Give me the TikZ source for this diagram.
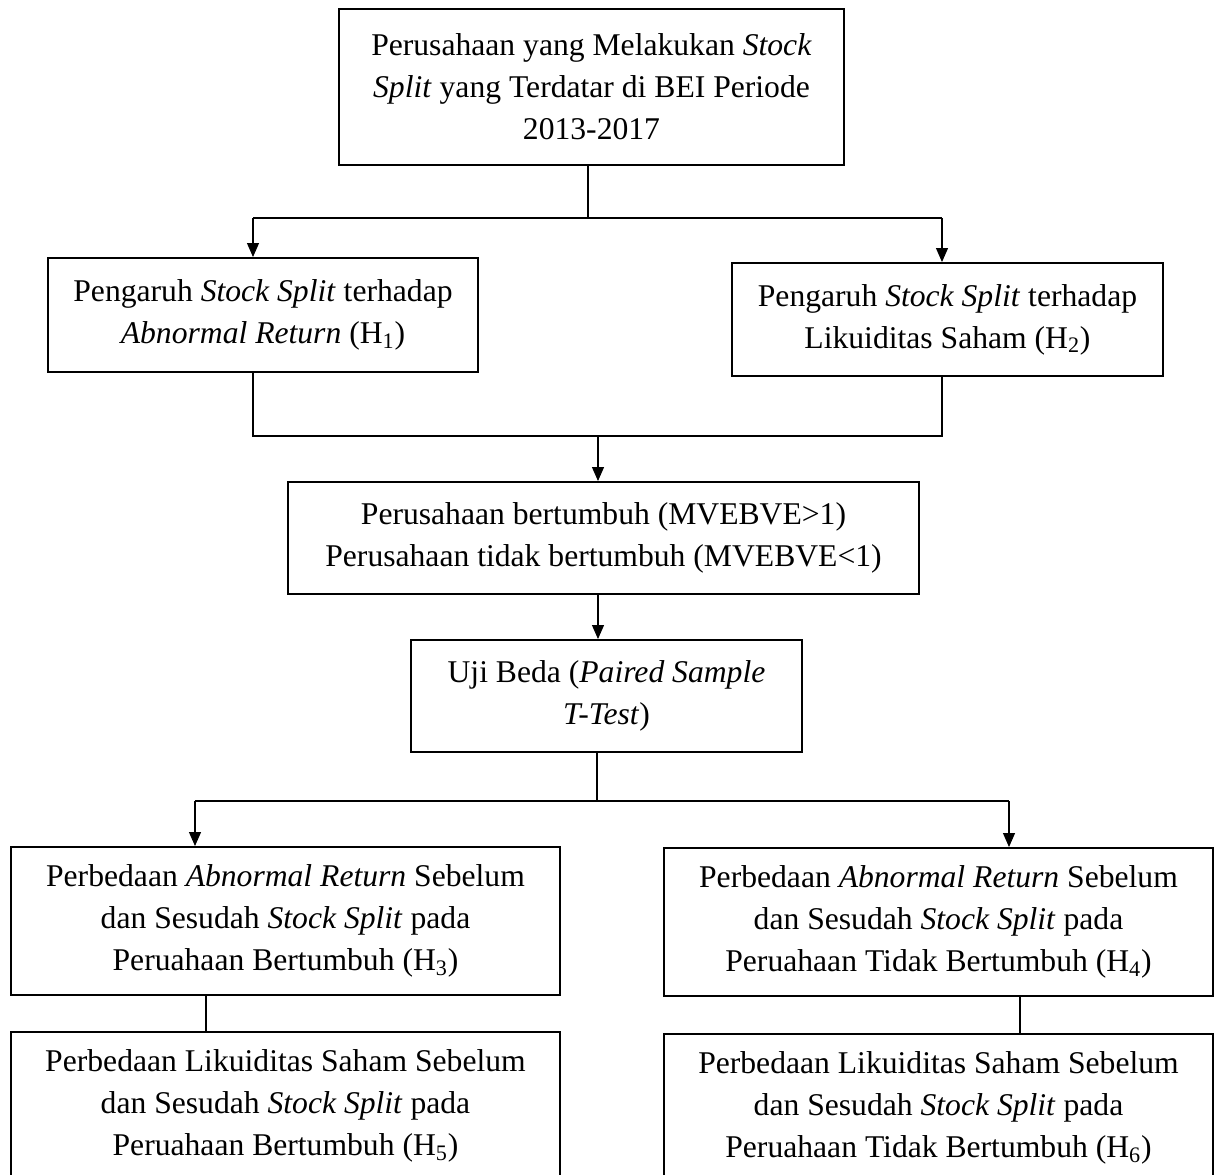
\documentclass[tikz,border=0pt]{standalone}
\usepackage{fontspec}
\setmainfont{Liberation Serif}
\usepackage{tikz}
\usetikzlibrary{arrows.meta,positioning,calc}

\begin{document}
\begin{tikzpicture}[font=\fontsize{18}{24}\selectfont,
          every node/.style={align=center},
          box/.style={draw, line width=1.1pt, inner sep=0pt},
          link/.style={line width=0.6pt},
          arr/.style={link, -{Triangle[length=0.28cm,width=0.24cm]}}]
          \clip (0,0) rectangle (24.3,-23.5);
          % Boxes
          \node[box, minimum width=10.1cm, minimum height=3.12cm] (top) at (11.83,-1.74)
            {Perusahaan yang Melakukan \textit{Stock}\\
             \textit{Split} yang Terdatar di BEI Periode\\ 2013-2017};
          \node[box, minimum width=8.6cm, minimum height=2.28cm] (h1) at (5.26,-6.30)
            {Pengaruh \textit{Stock Split} terhadap\\ \textit{Abnormal Return} (H\textsubscript{1})};
          \node[box, minimum width=8.62cm, minimum height=2.26cm] (h2) at (18.95,-6.39)
            {Pengaruh \textit{Stock Split} terhadap\\ Likuiditas Saham (H\textsubscript{2})};
          \node[box, minimum width=12.62cm, minimum height=2.24cm] (mid) at (12.07,-10.76)
            {Perusahaan bertumbuh (MVEBVE>1)\\ Perusahaan tidak bertumbuh (MVEBVE<1)};
          \node[box, minimum width=7.82cm, minimum height=2.24cm] (uji) at (12.13,-13.92)
            {Uji Beda (\textit{Paired Sample}\\ \textit{T-Test})};
          \node[box, minimum width=10.98cm, minimum height=2.96cm] (h3) at (5.71,-18.42)
            {Perbedaan \textit{Abnormal Return} Sebelum\\ dan Sesudah \textit{Stock Split} pada\\
             Peruahaan Bertumbuh (H\textsubscript{3})};
          \node[box, minimum width=10.98cm, minimum height=2.96cm] (h4) at (18.77,-18.44)
            {Perbedaan \textit{Abnormal Return} Sebelum\\ dan Sesudah \textit{Stock Split} pada\\
             Peruahaan Tidak Bertumbuh (H\textsubscript{4})};
          \node[box, minimum width=10.98cm, minimum height=2.96cm] (h5) at (5.71,-22.12)
            {Perbedaan Likuiditas Saham Sebelum\\ dan Sesudah \textit{Stock Split} pada\\
             Peruahaan Bertumbuh (H\textsubscript{5})};
          \node[box, minimum width=10.98cm, minimum height=2.96cm] (h6) at (18.77,-22.16)
            {Perbedaan Likuiditas Saham Sebelum\\ dan Sesudah \textit{Stock Split} pada\\
             Peruahaan Tidak Bertumbuh (H\textsubscript{6})};
          % Junction points
          \coordinate (jt) at (11.76,-4.36);
          \coordinate (a1) at (5.06,-4.36);
          \coordinate (a2) at (18.84,-4.36);
          \coordinate (jb) at (11.96,-8.72);
          \coordinate (b1) at (5.06,-8.72);
          \coordinate (b2) at (18.84,-8.72);
          \coordinate (jc) at (11.94,-16.02);
          \coordinate (c1) at (3.9,-16.02);
          \coordinate (c2) at (20.18,-16.02);
          \coordinate (d1) at (4.12,0);
          \coordinate (d2) at (20.4,0);
          % Connectors
          \draw[link] (top.south -| jt) -- (jt);
          \draw[link] (a1) -- (a2);
          \draw[arr] (a1) -- (a1 |- h1.north);
          \draw[arr] (a2) -- (a2 |- h2.north);
          \draw[link] (b1 |- h1.south) -- (b1) -- (b2) -- (b2 |- h2.south);
          \draw[arr] (jb) -- (jb |- mid.north);
          \draw[arr] (mid.south -| jb) -- (uji.north -| jb);
          \draw[link] (uji.south -| jc) -- (jc);
          \draw[link] (c1) -- (c2);
          \draw[arr] (c1) -- (c1 |- h3.north);
          \draw[arr] (c2) -- (c2 |- h4.north);
          \draw[link] (h3.south -| d1) -- (h5.north -| d1);
          \draw[link] (h4.south -| d2) -- (h6.north -| d2);
        \end{tikzpicture}
\end{document}
